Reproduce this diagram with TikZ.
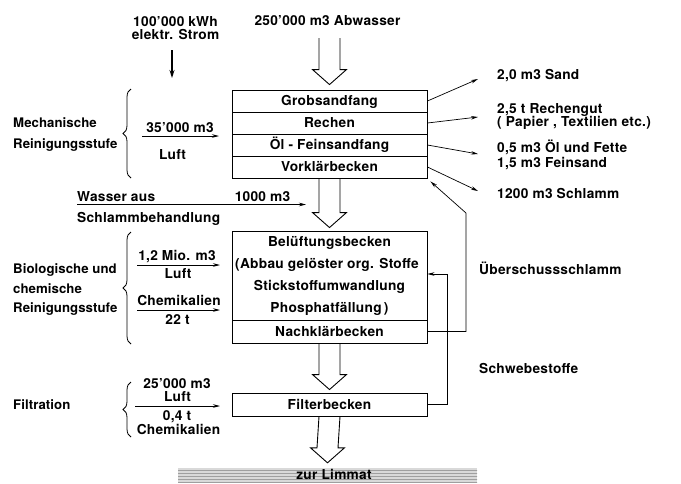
\documentclass[tikz,border=0pt]{standalone}
\usepackage{fontspec}
\setmainfont{TeX Gyre Heros}[LetterSpace=2]
\usetikzlibrary{arrows.meta,decorations.pathreplacing,patterns}
\newcommand\bigflow[2]{\draw[line width=0.9pt, line join=miter] ([xshift=-10.5pt]#1) -- ([xshift=-10.5pt,yshift=15pt]#2) -- ([xshift=-17pt,yshift=15pt]#2) -- (#2) -- ([xshift=17pt,yshift=15pt]#2) -- ([xshift=10.5pt,yshift=15pt]#2) -- ([xshift=10.5pt]#1);}
\begin{document}
\begin{tikzpicture}[x=1pt,y=-1pt,
 txt/.style={inner sep=0pt, font=\fontsize{13.7}{16}\selectfont\bfseries, text height=9.8pt, text depth=0pt},
 stage/.style={txt, anchor=west, font=\fontsize{13.2}{16}\selectfont\bfseries\addfontfeatures{LetterSpace=0.5}},
 row/.style={draw, line width=0.9pt, minimum width=195pt, minimum height=22pt, inner sep=0pt, font=\fontsize{13.7}{16}\selectfont\bfseries, text height=9.8pt, text depth=0pt},
 thinarrow/.style={line width=0.7pt, -{Stealth[length=7pt,width=3.5pt]}},
 lbrace/.style={decorate, decoration={brace, amplitude=8pt}, line width=0.8pt}]
\useasboundingbox (0,0) rectangle (681,483);
% process boxes
\node[row] (g) at (329.5,101) {Grobsandfang};
\node[row] (r) at (329.5,123) {Rechen};
\node[row] (o) at (329.5,145) {Öl - Feinsandfang};
\node[row] (v) at (329.5,167) {Vorklärbecken};
\node[row, minimum height=89pt] (bel) at (329.5,275.5) {};
\node[txt] (b1) at (329.5,242) {Belüftungsbecken};
\node[txt] (b2) at (327,264) {(Abbau gelöster org. Stoffe};
\node[txt] (b3) at (329.5,286) {Stickstoffumwandlung};
\node[txt] (b4) at (329.5,308) {Phosphatfällung\,)};
\node[row, minimum height=23pt] (nk) at (329.5,331.5) {Nachklärbecken};
\node[row, minimum height=23pt] (fb) at (329.5,404.5) {Filterbecken};
\node[minimum width=299pt, minimum height=14pt, inner sep=0pt, preaction={fill=gray!30}, pattern=horizontal lines, pattern color=gray!75] (band) at (327.5,475) {};
\node[txt] (zl) at (334,475) {zur Limmat};
% big flow arrows
\coordinate (in0) at (329.5,38);
\coordinate (t1) at ([yshift=5pt]g.north);
\bigflow{in0}{t1}
\coordinate (t2) at ([yshift=3pt]bel.north);
\bigflow{v.south}{t2}
\coordinate (t3) at ([yshift=3pt]fb.north);
\bigflow{nk.south}{t3}
\coordinate (t4) at ([yshift=5pt]band.north);
\bigflow{fb.south}{t4}
% outputs right
\coordinate (e1) at (478,79);
\coordinate (e2) at (478,117);
\coordinate (e3) at (478,154);
\coordinate (e4) at (478,191);
\draw[thinarrow] (g.east) -- (e1);
\draw[thinarrow] (r.east) -- (e2);
\draw[thinarrow] (o.east) -- (e3);
\draw[thinarrow] (v.east) -- (e4);
\node[txt, anchor=west] (sand) at (497,75) {2,0 m3 Sand};
\node[txt, anchor=west] (rg1) at (497,109) {2,5 t Rechengut};
\node[txt, anchor=west] (rg2) at (497,122) {( Papier , Textilien etc.)};
\node[txt, anchor=west] (oel) at (497,148) {0,5 m3 Öl und Fette};
\node[txt, anchor=west] (fs) at (497,163) {1,5 m3 Feinsand};
\node[txt, anchor=west] (schl) at (497,194) {1200 m3 Schlamm};
% return lines
\coordinate (rk) at (466,213);
\draw[thinarrow] (nk.east) -| (rk) -- ([xshift=3pt,yshift=-3pt]v.south east);
\coordinate (sw) at (447,274);
\draw[thinarrow] (fb.east) -| (sw) -- (sw -| bel.east);
\node[txt, anchor=west] (ues) at (479,270) {Überschussschlamm};
\node[txt, anchor=west] (sws) at (479,369) {Schwebestoffe};
% top inputs
\node[txt] (kwh1) at (175.5,22) {100'000 kWh};
\node[txt] (kwh2) at (175.5,35) {elektr. Strom};
\coordinate (k1) at (172,50);
\coordinate (k2) at (172,78);
\draw[line width=1.2pt, -{Stealth[length=8pt,width=5pt]}] (k1) -- (k2);
\node[txt] (abw) at (327.5,21) {250'000 m3 Abwasser};
% mechanical stage
\node[stage] (mech1) at (13,123) {Mechanische};
\node[stage] (mech2) at (13,144) {Reinigungsstufe};
\draw[lbrace] (131,178) -- (131,89);
\node[txt] (l1) at (180,128) {35'000 m3};
\coordinate (l1a) at (142,136);
\coordinate (l1b) at (219,136);
\draw[thinarrow] (l1a) -- (l1b);
\node[txt] (l1c) at (172.5,155) {Luft};
% water from sludge treatment
\node[txt, anchor=west] (w1) at (77,197) {Wasser aus};
\node[txt] (w2) at (262.5,197) {1000 m3};
\coordinate (wa) at (77,204.5);
\coordinate (wb) at (306,204.5);
\draw[thinarrow] (wa) -- (wb);
\node[txt, anchor=west] (w3) at (77,218) {Schlammbehandlung};
% biological stage
\node[stage] (bio1) at (13,269) {Biologische und};
\node[stage] (bio2) at (13,289) {chemische};
\node[stage] (bio3) at (13,308) {Reinigungsstufe};
\draw[lbrace] (131,344) -- (131,232);
\node[txt] (m1) at (177,256) {1,2 Mio. m3};
\coordinate (m1a) at (137,265);
\coordinate (m1b) at (220,265);
\draw[thinarrow] (m1a) -- (m1b);
\node[txt] (m2) at (178,274) {Luft};
\node[txt] (c1) at (179,301) {Chemikalien};
\coordinate (c1a) at (137,310);
\coordinate (c1b) at (220,310);
\draw[thinarrow] (c1a) -- (c1b);
\node[txt] (c2) at (177.5,320) {22 t};
% filtration
\node[stage] (fi) at (13,405) {Filtration};
\draw[lbrace] (131,437) -- (131,382);
\node[txt] (f1) at (177,384) {25'000 m3};
\node[txt] (f2) at (177.5,397) {Luft};
\coordinate (f3a) at (135,406);
\coordinate (f3b) at (220,406);
\draw[thinarrow] (f3a) -- (f3b);
\node[txt] (f4) at (177,416) {0,4 t};
\node[txt] (f5) at (178.5,430) {Chemikalien};
\end{tikzpicture}
\end{document}
